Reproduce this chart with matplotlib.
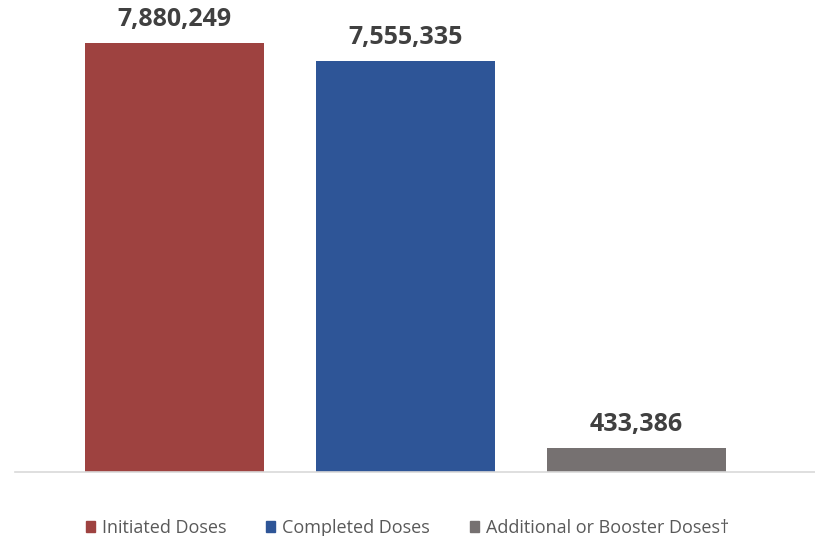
import matplotlib.pyplot as plt
from matplotlib.patches import Patch

categories = ["Initiated Doses", "Completed Doses", "Additional or Booster Doses\u2020"]
values = [7880249, 7555335, 433386]
colors = ["#9E4240", "#2E5597", "#767171"]

plt.rcParams['font.family'] = ['Open Sans', 'DejaVu Sans']

fig = plt.figure(figsize=(8.15, 5.36), dpi=100)
ax = fig.add_axes([15 / 815, 64 / 536, 800 / 815, 472 / 536])

x = list(range(len(values)))
ax.bar(x, values, width=0.775, color=colors)
for xi, v in zip(x, values):
    ax.annotate(f"{v:,}", (xi, v), xytext=(0, 8), textcoords="offset points",
                ha="center", va="bottom", fontsize=18, fontweight="bold", color="#404040")

ax.set_xlim(-0.690, 2.773)
ax.set_ylim(0, 8.67e6)
for s in ["top", "right", "left"]:
    ax.spines[s].set_visible(False)
ax.spines["bottom"].set_color("#D9D9D9")
ax.spines["bottom"].set_linewidth(1.2)
ax.set_xticks([])
ax.set_yticks([])

handles = [Patch(color=c, label=l) for c, l in zip(colors, categories)]
fig.legend(handles=handles, loc="center", bbox_to_anchor=(0.5, 8 / 536), ncol=3,
           frameon=False, fontsize=13, labelcolor="#595959", handlelength=0.5,
           handleheight=0.5, handletextpad=0.4, columnspacing=2.2)

fig.savefig("out.png", dpi=100)
